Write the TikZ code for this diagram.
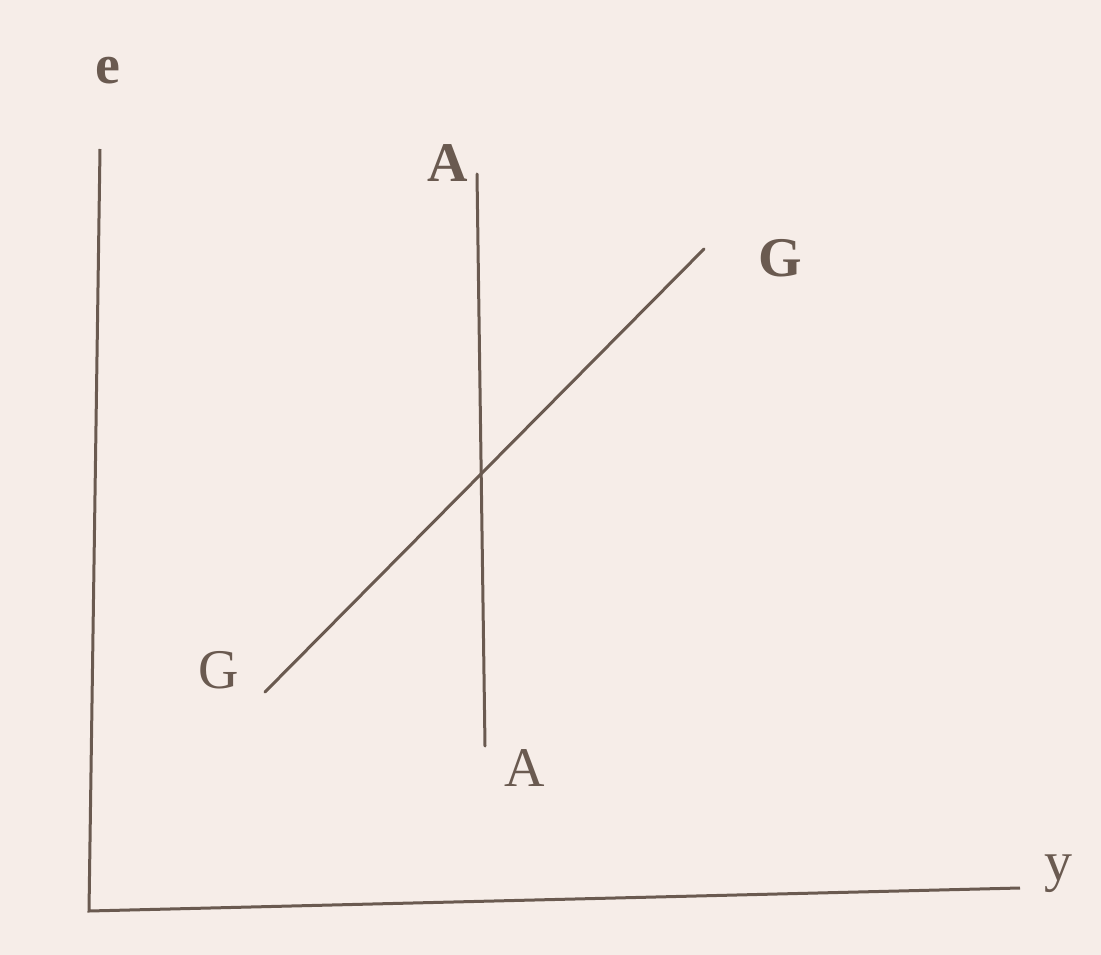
\documentclass[tikz,border=0pt]{standalone}
\usepackage{fontspec}
\setmainfont{Liberation Serif}
\definecolor{paper}{HTML}{F6EDE8}
\definecolor{ink}{HTML}{6A5A50}
\tikzset{
  curve/.style={draw=ink, line width=3pt, line cap=round},
  lab/.style={text=ink, font=\fontsize{56}{60}\selectfont, inner sep=0pt, anchor=center},
  blab/.style={lab, font=\fontsize{56}{60}\selectfont\bfseries}
}
\begin{document}
\begin{tikzpicture}[x=1pt,y=-1pt]
\fill[paper] (0,0) rectangle (1101,955);
\useasboundingbox (0,0) rectangle (1101,955);
% axes
\coordinate (ytop) at (100,149);
\coordinate (O) at (89,911);
\coordinate (xend) at (1020,888);
\draw[curve, line cap=butt, line join=miter] (ytop) -- (O) -- (xend);
% AA
\coordinate (a1) at (477,174);
\coordinate (a2) at (485,746);
\draw[curve] (a1) -- (a2);
% GG
\coordinate (g1) at (265,692);
\coordinate (g2) at (704,249);
\draw[curve] (g1) -- (g2);
% labels
\node[blab] (le) at (108,71) {e};
\node[lab] (ly) at (1058,874) {y};
\node[blab] (lat) at (448,163) {A};
\node[lab] (lab) at (525,768) {A};
\node[lab] (lgl) at (219,670) {G};
\node[blab] (lgr) at (780,258) {G};
\end{tikzpicture}
\end{document}
